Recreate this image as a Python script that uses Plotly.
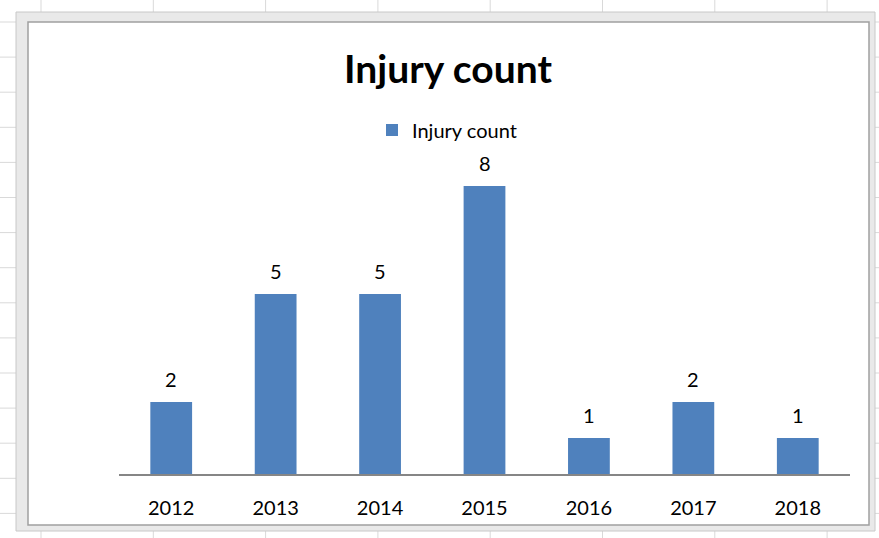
import plotly.graph_objects as go

years = ["2012", "2013", "2014", "2015", "2016", "2017", "2018"]
injuries = [2, 5, 5, 8, 1, 2, 1]
series_name = "Injury count"
chart_title = "Injury count"

W, H = 879, 538
L, R, T, B = 119, 29, 150, 64
PW, PH = W - L - R, H - T - B
FONT = "Lato, Open Sans, sans-serif"

def px(x):
    return (x - L) / PW

def py(y):
    return (H - B - y) / PH

fig = go.Figure()
fig.add_trace(go.Bar(
    x=years, y=injuries, name=series_name,
    marker=dict(color="#4F81BD", line=dict(width=0)),
    width=0.4, hoverinfo="x+y",
))

# data labels above bars (category axis positions are the category indices)
annotations = [
    dict(x=i, y=v, xref="x", yref="y", text=str(v), showarrow=False, yanchor="bottom", yshift=9,
         font=dict(size=20, color="#000000", family=FONT))
    for i, v in enumerate(injuries)
]

shapes = []
# spreadsheet grid lines behind the chart object
for i in range(9):
    gx = 41 + 112.3 * i
    shapes.append(dict(type="line", xref="paper", yref="paper", x0=px(gx), x1=px(gx), y0=py(0), y1=py(H),
                       line=dict(color="#d9d9d9", width=1), layer="below"))
for j in range(16):
    gy = 22 + 35.1 * j
    shapes.append(dict(type="line", xref="paper", yref="paper", x0=px(0), x1=px(W), y0=py(gy), y1=py(gy),
                       line=dict(color="#d9d9d9", width=1), layer="below"))
# chart object frame
shapes.append(dict(type="rect", xref="paper", yref="paper", x0=px(16), x1=px(875), y0=py(12), y1=py(531),
                   fillcolor="#e9e9e9", line=dict(color="#c8c8c8", width=1), layer="below"))
shapes.append(dict(type="rect", xref="paper", yref="paper", x0=px(28), x1=px(869), y0=py(22), y1=py(525),
                   fillcolor="#ffffff", line=dict(color="#a0a0a0", width=1.5), layer="below"))

fig.update_layout(
    width=W, height=H,
    margin=dict(l=L, r=R, t=T, b=B),
    paper_bgcolor="#ffffff", plot_bgcolor="rgba(0,0,0,0)",
    title=dict(text="<b>" + chart_title + "</b>", x=448 / W, xanchor="center", y=1 - 69 / H, yanchor="middle",
               font=dict(size=39, color="#000000", family=FONT)),
    showlegend=True,
    legend=dict(orientation="h", x=px(372), xanchor="left", y=py(130), yanchor="middle",
                font=dict(size=20, color="#000000", family=FONT),
                bgcolor="rgba(0,0,0,0)", itemwidth=30),
    xaxis=dict(type="category", categoryorder="array", categoryarray=years,
               showline=True, linecolor="#868686", linewidth=1.5, ticks="", showgrid=False,
               tickfont=dict(size=20, color="#000000", family=FONT), ticklabelstandoff=15),
    yaxis=dict(range=[0, 9], visible=False, showgrid=False),
    bargap=0.6,
    shapes=shapes,
    annotations=annotations,
)

fig.write_html("out.html", config={"displayModeBar": False},
               post_script="document.body.style.margin='0';")
